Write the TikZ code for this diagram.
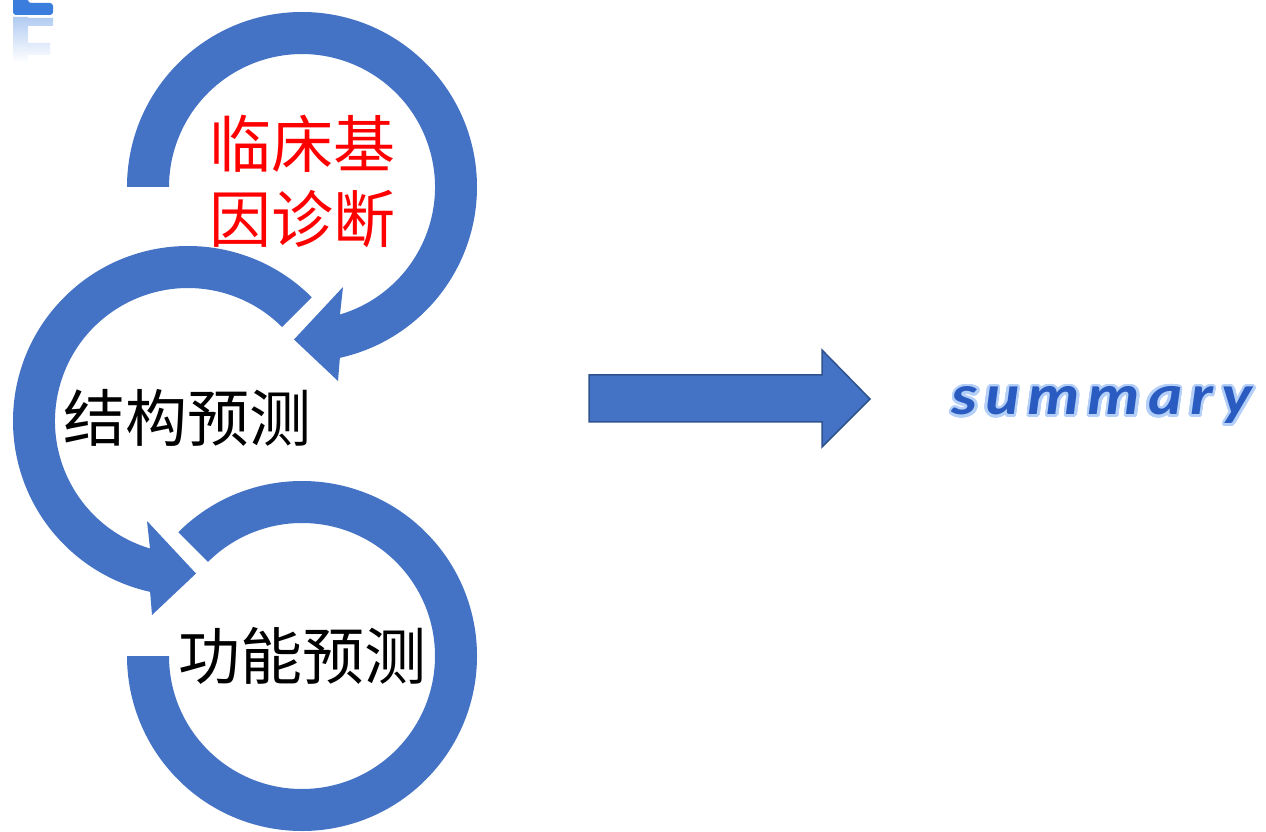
\documentclass[tikz,border=0pt]{standalone}
\usepackage{fontspec}
\usepackage{contour}
\newfontfamily\cjk{Noto Sans CJK SC}
\newfontfamily\sumfont{Carlito}[FakeStretch=1.14, LetterSpace=14]
\definecolor{ringblue}{HTML}{4472C4}
\definecolor{arrowborder}{HTML}{2F528F}
\definecolor{sumblue}{HTML}{2A5BC0}
\definecolor{glowblue}{HTML}{B4D0F8}
\definecolor{eblue}{HTML}{3B7DDD}
\contourlength{2.5pt}
\contournumber{24}
\tikzset{
  ring/.style={fill=ringblue},
  cjkt/.style={inner sep=0pt, font={\cjk\fontsize{62}{75}\selectfont}, align=center},
  sumtext/.style={anchor=base, inner sep=0pt},
}
\begin{document}
\begin{tikzpicture}[x=1pt,y=1pt]
\useasboundingbox (0,0) rectangle (1266,831);
\fill[white] (0,0) rectangle (1266,831);
% top-left partial letter with reflection
\fill[eblue, rounded corners=3] (13,833) -- (28,833) -- (28,828) -- (53,828) -- (53,816) -- (13,816) -- cycle;
\shade[top color=eblue!40, bottom color=white] (13,814) rectangle (28,769) (28,813) rectangle (53,805) (28,788) rectangle (50,776);
% ring 1 (top)
\fill[ring] (169,644) -- (127,644) arc[start angle=180,end angle=-77.5,radius=175]
  -- (338,450) -- (294,491.5) -- (343,544) -- (340,516.5)
  arc[start angle=-73.4,end angle=180,radius=133] -- cycle;
% ring 2 (middle)
\fill[ring] (282.05,504.05) -- (311.74,533.74) arc[start angle=45,end angle=257.5,radius=175]
  -- (152,216) -- (196,257.5) -- (147,310) -- (150,282.5)
  arc[start angle=253.4,end angle=45,radius=133] -- cycle;
% ring 3 (bottom)
\fill[ring] (207.95,269.05) -- (178.26,298.74) arc[start angle=135,end angle=-180,radius=175]
  -- (169,175) arc[start angle=-180,end angle=135,radius=133] -- cycle;
% texts
\node[cjkt, text=red] (t1) at (302,650) {临床基\\因诊断};
\node[cjkt] (t2) at (187,413) {结构预测};
\node[cjkt] (t3) at (302,175) {功能预测};
% big arrow
\fill[ring, draw=arrowborder, line width=1.5pt, line join=miter]
  (589,456) -- (822,456) -- (822,481) -- (870,432) -- (822,384) -- (822,409) -- (589,409) -- cycle;
% summary with light glow
\node[sumtext] (sum) at (1102,416)
  {\sumfont\bfseries\itshape\fontsize{57}{62}\selectfont\color{sumblue}\contour{glowblue}{summary}};
\end{tikzpicture}
\end{document}
